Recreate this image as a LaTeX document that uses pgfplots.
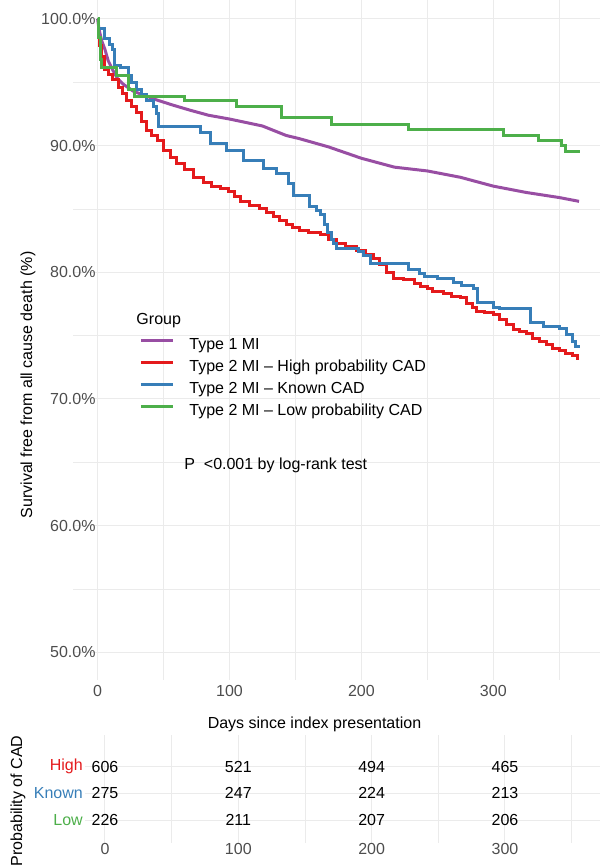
\documentclass[border=0pt]{standalone}
\usepackage{fontspec}
\setmainfont{Liberation Sans}
\usepackage{pgfplots}
\usepackage{pgfplotstable}
\pgfplotsset{compat=1.18}

\definecolor{cPurple}{HTML}{984EA3}
\definecolor{cRed}{HTML}{E41A1C}
\definecolor{cBlue}{HTML}{377EB8}
\definecolor{cGreen}{HTML}{4DAF4A}
\definecolor{gridgray}{HTML}{EBEBEB}
\definecolor{tickgray}{HTML}{4D4D4D}

% Kaplan-Meier estimates (day, survival %)
\pgfplotstableread{
day surv
0 100
1 99.2
3 98.3
5.5 97.6
8 96.7
11.8 95.9
15 95.3
19.4 94.85
27 94.3
37 93.9
45 93.6
57 93.2
70 92.8
84 92.4
100 92.1
125 91.55
143 90.8
153 90.55
175 89.9
200 89.0
225 88.3
250 88.0
275 87.5
300 86.8
325 86.3
350 85.9
365 85.6
}\typeone

\pgfplotstableread{
day surv
0 100
0.5 98.5
1.5 97.9
3 97.0
5 96.05
8 95.6
11 95.2
16 94.6
19 94.1
22 93.6
26 93.1
29.5 92.6
33 91.9
37 91.2
41 90.8
45 90.4
50 89.6
55 89.1
60 88.6
66 88.1
73 87.5
80 87.1
86 86.8
93 86.6
99 86.4
104 86.0
108 85.6
115 85.3
123 85.0
128 84.7
133 84.4
138 84.1
143 83.75
148 83.5
153 83.3
160 83.1
169 82.95
175 82.6
181 82.3
188 82.0
196 81.75
203 81.4
209 81.1
214 80.6
219 80.0
224 79.5
232 79.4
240 79.1
244.5 78.9
250 78.7
254 78.5
262 78.3
268 78.1
275 78.0
280 77.5
284 77.2
287 76.9
293 76.8
300 76.7
305 76.3
310 75.9
315 75.5
320 75.3
325 75.2
330 74.8
335 74.5
340 74.3
345 74.0
350 73.8
355 73.6
360 73.4
364 73.2
365 73.2
}\high

\pgfplotstableread{
day surv
0 100
1 99.25
5.5 98.45
9.3 98.0
11 97.6
13.1 96.3
17 96.2
23.2 95.5
26 95.0
29.5 94.4
33 94.0
37.1 93.6
42.2 93.1
44.7 92.5
46 91.5
77.6 91.0
85.2 90.2
97.8 89.6
110.5 88.8
125.7 88.2
135.8 87.8
144.6 87.0
148.4 86.1
161 85.2
166 84.9
169 84.6
172 83.8
174 83.1
177 82.6
179 82.3
181 81.9
198 81.6
201.6 81.3
206.7 80.7
236 80.2
244 79.9
248 79.7
258 79.5
270 79.2
276 78.95
285 78.7
288 77.6
300 77.2
305 77.1
328 76.0
338 75.7
350 75.55
355.6 75.06
360 74.5
362 74.1
366 74.1
}\known

\pgfplotstableread{
day surv
0 100
1 98.5
2 96.8
3 96.2
14.4 95.5
23.2 94.4
28.3 93.9
66.2 93.6
104.9 93.05
139.6 92.2
177.4 91.7
236 91.3
308 90.8
334 90.4
352 90.0
355 89.5
365.6 89.5
}\low

% numbers at risk
\pgfplotstableread{
day row n
0 3 606
100 3 521
200 3 494
300 3 465
0 2 275
100 2 247
200 2 224
300 2 213
0 1 226
100 1 211
200 1 207
300 1 206
}\risk

\begin{document}
\begin{tikzpicture}[font=\fontsize{16}{19}\selectfont]
\path[use as bounding box] (0,0) rectangle (602pt,-866pt);

\begin{axis}[
    at={(73pt,0pt)}, anchor=north west,
    scale only axis, width=527pt, height=680pt,
    xmin=-18.7, xmax=380.9, ymin=47.8, ymax=101.5,
    axis line style={draw=none},
    major tick style={draw=none}, minor tick style={draw=none},
    xtick={0,100,200,300}, minor xtick={50,150,250,350},
    ytick={50,60,70,80,90,100}, minor ytick={55,65,75,85,95},
    yticklabels={50.0\%,60.0\%,70.0\%,80.0\%,90.0\%,100.0\%},
    grid=both,
    major grid style={color=gridgray, line width=1pt},
    minor grid style={color=gridgray, line width=0.6pt},
    tick label style={font=\fontsize{16}{19}\selectfont, text=tickgray},
    yticklabel style={anchor=east, inner sep=0pt, xshift=24pt},
    /pgf/number format/assume math mode=true,
    legend cell align=left,
    legend image code/.code={\draw[#1] (0pt,5pt) -- (32pt,5pt);},
    legend style={at={(axis cs:30.55,74.95)}, anchor=north west,
        draw=none, fill=none, inner sep=0pt,
        font=\fontsize{16}{19}\selectfont,
        nodes={inner sep=0pt, text height=12pt, text depth=4pt},
        column sep=15pt, row sep=6pt},
    no markers, line width=3pt,
    ]
\addplot[cPurple, sharp plot] table[x=day, y=surv] {\typeone};
\addlegendentry{Type 1 MI}
\addplot[cRed, const plot] table[x=day, y=surv] {\high};
\addlegendentry{Type 2 MI -- High probability CAD}
\addplot[cBlue, const plot] table[x=day, y=surv] {\known};
\addlegendentry{Type 2 MI -- Known CAD}
\addplot[cGreen, const plot] table[x=day, y=surv] {\low};
\addlegendentry{Type 2 MI -- Low probability CAD}
\node[anchor=west, inner sep=0pt] at (axis cs:28.3,76.22) {Group};
\node[anchor=west, inner sep=0pt] at (axis cs:64.6,64.77) {P \ <0.001 by log-rank test};
\end{axis}

\node[rotate=90] at (28pt,-385pt) {Survival free from all cause death (\%)};
\node at (314.5pt,-724pt) {Days since index presentation};

\begin{axis}[
    at={(85pt,-735pt)}, anchor=north west,
    scale only axis, width=515pt, height=108pt,
    xmin=-15, xmax=371.3, ymin=0.14, ymax=4.19,
    axis line style={draw=none},
    major tick style={draw=none}, minor tick style={draw=none},
    xtick={0,100,200,300}, minor xtick={50,150,250,350},
    ytick={1,2,3},
    yticklabels={\textcolor{cGreen}{Low},\textcolor{cBlue}{Known},\textcolor{cRed}{High}},
    grid=both,
    major grid style={color=gridgray, line width=1pt},
    minor grid style={color=gridgray, line width=0.6pt},
    tick label style={font=\fontsize{16}{19}\selectfont, text=tickgray},
    xticklabel style={yshift=3pt},
    yticklabel style={anchor=east, inner sep=2pt},
    /pgf/number format/assume math mode=true,
    ]
\addplot[draw=none, no markers, nodes near coords, point meta=explicit symbolic,
    nodes near coords style={anchor=center, text=black, font=\fontsize{16}{19}\selectfont}]
    table[x=day, y=row, meta=n] {\risk};
\end{axis}

\node[rotate=90] at (18pt,-801pt) {Probability of CAD};
\end{tikzpicture}
\end{document}
